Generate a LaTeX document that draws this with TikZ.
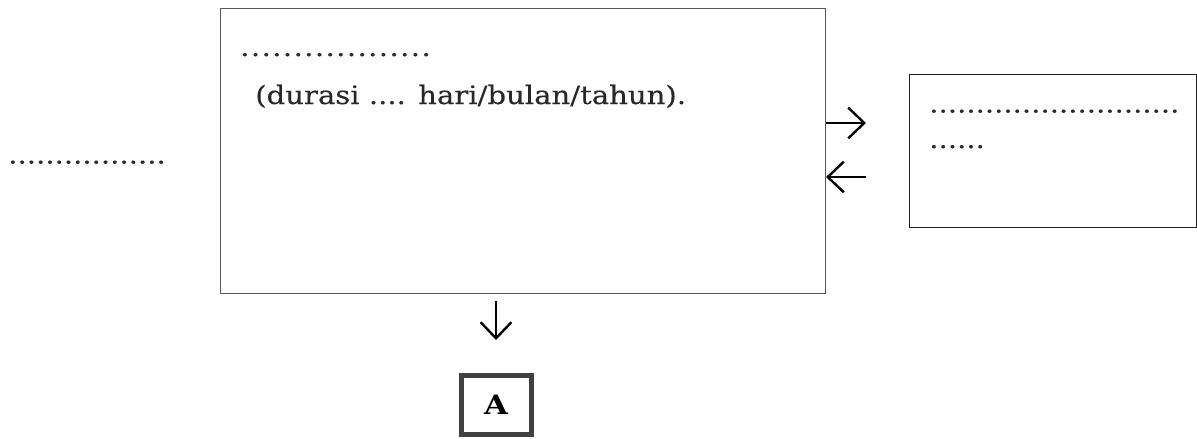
\documentclass[tikz,border=0pt]{standalone}
\usepackage{fontspec}
\setmainfont{DejaVu Serif}[FakeStretch=1.15]
\usetikzlibrary{arrows.meta}

\begin{document}
\begin{tikzpicture}[x=0.75pt,y=0.75pt,yscale=-1,xscale=1,
  txt/.style={anchor=base west, inner sep=0pt, text={rgb, 255:red, 40; green, 40; blue, 40}, font=\fontsize{19pt}{23pt}\selectfont\addfontfeature{FakeBold=0.25}},
  pointer/.style={line width=1.8pt, -{Straight Barb[length=12pt,width=23pt]}}]
\useasboundingbox (0,0) rectangle (1197,439);

%Shape: Rectangle [id:plan]
\node (plan) [draw={rgb, 255:red, 89; green, 89; blue, 89}, line width=0.8pt, anchor=north west, minimum width=605*0.75pt, minimum height=285*0.75pt, inner sep=0pt] at (220,8) {};
%Shape: Rectangle [id:side]
\node (side) [draw={rgb, 255:red, 30; green, 30; blue, 30}, line width=0.9pt, anchor=north west, minimum width=287*0.75pt, minimum height=153*0.75pt, inner sep=0pt] at (909,74) {};
%Shape: Rectangle [id:boxA]
\node (boxA) [draw={rgb, 255:red, 64; green, 64; blue, 64}, line width=3.75pt, minimum width=70*0.75pt, minimum height=59*0.75pt, inner sep=0pt, font=\fontsize{20pt}{24pt}\selectfont\bfseries] at (496,405) {A};

%Text Node
\node (plantop) [txt] at (240,56) {\addfontfeature{LetterSpace=5.5}..................};
%Text Node
\node (durasi) [txt] at (255,104) {(durasi .... hari/bulan/tahun).};
%Text Node
\node (left) [txt] at (8,163.5) {.................};
%Text Node
\node (sidetop) [txt] at (929,112.5) {...........................};
%Text Node
\node (sidebot) [txt] at (929,148) {......};

%Straight Lines [id:go]
\coordinate (goend) at (866,123);
\draw [pointer] (plan.east |- goend) -- (goend);
%Straight Lines [id:back]
\coordinate (backstart) at (866,177);
\draw [pointer] (backstart) -- (plan.east |- backstart);
%Straight Lines [id:down]
\coordinate (downstart) at (496,301);
\coordinate (downend) at (496,340);
\draw [pointer] (downstart) -- (downend);

\end{tikzpicture}
\end{document}
